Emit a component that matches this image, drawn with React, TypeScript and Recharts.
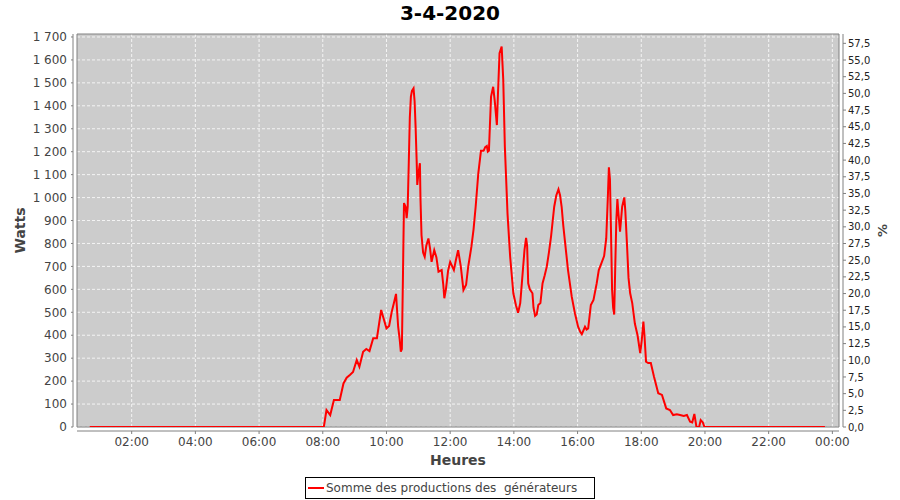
import React from 'react';
import { LineChart, Line, XAxis, YAxis, CartesianGrid, ReferenceArea } from 'recharts';

// time in minutes since midnight
const minutes = [
  41, 120, 300, 478, 482, 487, 494, 501, 512, 519, 525, 531, 537, 544, 549, 556, 562, 568, 575, 582,
  590, 595, 600, 605, 610, 614, 618, 622, 625, 627, 629, 631, 633, 636, 638, 640, 642, 644, 646, 648,
  651, 653, 655, 657, 658, 660, 663, 664, 666, 669, 672, 675, 679, 682, 685, 690, 694, 698, 704, 707,
  709, 712, 716, 720, 727, 731, 735, 740, 745, 750, 754, 760, 764, 768, 773, 778, 783, 786, 789, 791,
  793, 797, 801, 804, 808, 810, 813, 817, 820, 823, 826, 828, 833, 839, 844, 848, 852, 855, 860, 863,
  865, 867, 870, 875, 877, 880, 883, 886, 890, 894, 898, 902, 906, 910, 916, 920, 924, 927, 930, 933,
  936, 942, 949, 955, 961, 965, 968, 974, 977, 980, 985, 990, 996, 1000, 1005, 1010, 1014, 1017, 1019, 1021,
  1023, 1025, 1027, 1029, 1031, 1033, 1035, 1037, 1040, 1044, 1048, 1050, 1053, 1056, 1059, 1063, 1068, 1073, 1078, 1081,
  1084, 1086, 1089, 1093, 1098, 1104, 1112, 1119, 1127, 1134, 1140, 1147, 1153, 1160, 1166, 1172, 1176, 1180, 1184, 1189,
  1192, 1196, 1199, 1300, 1426,
];

const watts = [
  0, 0, 0, 0, 0, 74, 52, 118, 118, 190, 215, 227, 240, 292, 263, 328, 340, 331, 387, 387,
  510, 470, 430, 440, 503, 540, 580, 437, 380, 328, 340, 650, 976, 960, 910, 960, 1150, 1350, 1440, 1465,
  1476, 1420, 1300, 1150, 1055, 1100, 1150, 1000, 837, 760, 742, 790, 822, 780, 720, 771, 740, 677, 684, 620,
  561, 600, 680, 720, 684, 730, 771, 700, 597, 620, 699, 786, 860, 960, 1106, 1204, 1204, 1220, 1225, 1200,
  1204, 1440, 1483, 1420, 1316, 1450, 1629, 1658, 1513, 1222, 1050, 931, 742, 583, 530, 498, 540, 626, 771, 824,
  790, 626, 600, 583, 520, 484, 490, 532, 540, 626, 660, 699, 760, 830, 960, 1010, 1036, 1010, 960, 880,
  815, 684, 568, 496, 437, 415, 405, 437, 425, 430, 532, 554, 626, 684, 714, 745, 822, 1000, 1132, 1080,
  850, 600, 520, 490, 700, 900, 994, 930, 851, 960, 1001, 940, 800, 650, 584, 540, 450, 400, 322, 380,
  459, 400, 285, 279, 279, 219, 147, 140, 81, 74, 52, 55, 52, 48, 52, 23, 20, 57, 0, 0,
  30, 20, 0, 0, 0,
];

const xTicks = [120, 240, 360, 480, 600, 720, 840, 960, 1080, 1200, 1320, 1440];
const leftTicks = [0, 100, 200, 300, 400, 500, 600, 700, 800, 900, 1000, 1100, 1200, 1300, 1400, 1500, 1600, 1700];
const rightTicks = [0, 2.5, 5, 7.5, 10, 12.5, 15, 17.5, 20, 22.5, 25, 27.5, 30, 32.5, 35, 37.5, 40, 42.5, 45, 47.5, 50, 52.5, 55, 57.5];

const X_MIN = 17;
const X_MAX = 1452.5;
const Y_MAX = 1713;
const R_MAX = 58.9;

const title = '3-4-2020';
const seriesName = 'Somme des productions des  générateurs';

const data = minutes.map((m, i) => ({ t: m, w: watts[i] }));

const fmtTime = (v: number) => {
  const h = Math.floor(v / 60) % 24;
  const m = Math.round(v % 60);
  return `${String(h).padStart(2, '0')}:${String(m).padStart(2, '0')}`;
};
const fmtWatts = (v: number) =>
  v >= 1000 ? `${Math.floor(v / 1000)} ${String(v % 1000).padStart(3, '0')}` : String(v);
const fmtPct = (v: number) => v.toFixed(1).replace('.', ',');

const FONT = '"DejaVu Sans", sans-serif';

export default function App() {
  return (
    <div style={{ position: 'absolute', left: 0, top: 0, width: 900, height: 500, background: '#fff', fontFamily: FONT }}>
      <div
        style={{
          position: 'absolute', left: 0, top: 0, width: 900, textAlign: 'center',
          fontWeight: 'bold', fontSize: 20, lineHeight: '26px', color: '#000', fontFamily: FONT,
        }}
      >
        {title}
      </div>
      <LineChart
        width={900}
        height={500}
        data={data}
        margin={{ top: 34, right: 0, bottom: 33, left: 10 }}
        style={{ fontFamily: FONT }}
      >
        <CartesianGrid
          xAxisId="x"
          yAxisId="left"
          fill="#cccccc"
          stroke="#f4f4f4"
          strokeDasharray="3 2"
          strokeWidth={1}
          horizontalValues={leftTicks}
          verticalValues={xTicks}
        />
        <XAxis
          xAxisId="x"
          dataKey="t"
          type="number"
          domain={[X_MIN, X_MAX]}
          ticks={xTicks}
          tickFormatter={fmtTime}
          allowDataOverflow
          height={40}
          tickSize={3}
          tickMargin={7}
          axisLine={{ stroke: '#808080', transform: 'translate(0,4)' }}
          tickLine={{ stroke: '#808080', transform: 'translate(0,4)' }}
          tick={{ fill: '#444', fontSize: 12, fontFamily: FONT }}
          label={{ value: 'Heures', position: 'insideBottom', offset: 2, fill: '#444', fontSize: 14, fontWeight: 'bold', fontFamily: FONT }}
        />
        <YAxis
          yAxisId="left"
          type="number"
          domain={[0, Y_MAX]}
          ticks={leftTicks}
          tickFormatter={fmtWatts}
          allowDataOverflow
          width={67}
          tickSize={2}
          tickMargin={8}
          interval={0}
          axisLine={{ stroke: '#808080', transform: 'translate(-4,0)' }}
          tickLine={{ stroke: '#808080', transform: 'translate(-4,0)' }}
          tick={{ fill: '#444', fontSize: 12, fontFamily: FONT }}
          label={{ value: 'Watts', angle: -90, position: 'insideLeft', offset: 10, textAnchor: 'middle', fill: '#444', fontSize: 14, fontWeight: 'bold', fontFamily: FONT }}
        />
        <YAxis
          yAxisId="right"
          orientation="right"
          type="number"
          domain={[0, R_MAX]}
          ticks={rightTicks}
          tickFormatter={fmtPct}
          allowDataOverflow
          width={61}
          tickSize={3}
          tickMargin={6}
          interval={0}
          axisLine={{ stroke: '#808080', transform: 'translate(4,0)' }}
          tickLine={{ stroke: '#808080', transform: 'translate(4,0)' }}
          tick={{ fill: '#222', fontSize: 10, fontFamily: FONT }}
          label={{ value: '%', angle: -90, position: 'insideRight', offset: 18, textAnchor: 'middle', fill: '#444', fontSize: 13, fontWeight: 'bold', fontFamily: FONT }}
        />
        <ReferenceArea
          xAxisId="x"
          yAxisId="left"
          x1={X_MIN}
          x2={X_MAX}
          y1={0}
          y2={Y_MAX}
          fill="none"
          fillOpacity={0}
          stroke="#808080"
          strokeWidth={1}
          ifOverflow="visible"
        />
        <Line
          xAxisId="x"
          yAxisId="left"
          type="linear"
          dataKey="w"
          name={seriesName}
          stroke="#ff0000"
          strokeWidth={2}
          dot={false}
          isAnimationActive={false}
        />
      </LineChart>
      <div
        style={{
          position: 'absolute', left: 305, top: 477, width: 290, height: 22, boxSizing: 'border-box',
          border: '1px solid #000', background: '#fff', display: 'flex', alignItems: 'center',
        }}
      >
        <svg width={20} height={20} style={{ display: 'block', flex: 'none' }}>
          <line x1={2} y1={10} x2={18} y2={10} stroke="#ff0000" strokeWidth={2} />
        </svg>
        <span style={{ whiteSpace: 'pre', fontSize: 12, color: '#444', fontFamily: FONT, lineHeight: '20px' }}>
          {seriesName}
        </span>
      </div>
    </div>
  );
}
